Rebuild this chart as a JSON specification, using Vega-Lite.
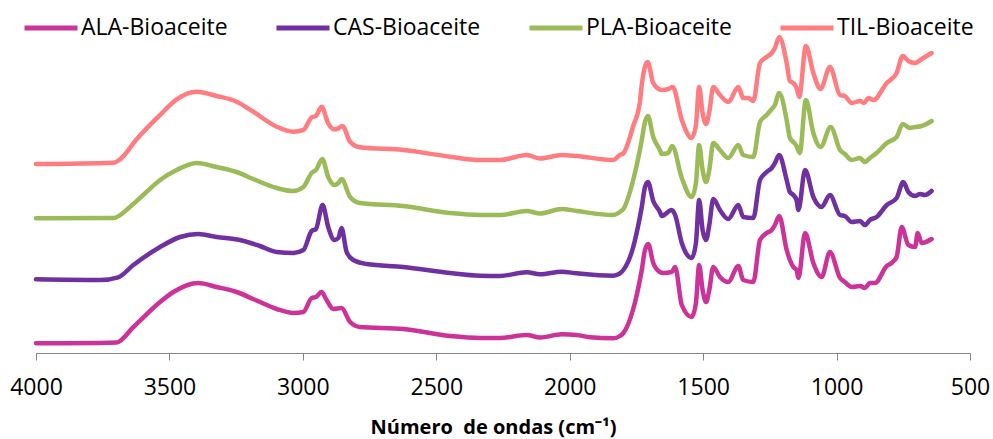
{
  "$schema": "https://vega.github.io/schema/vega-lite/v6.json",
  "width": 934,
  "height": 333,
  "autosize": {"type": "none"},
  "padding": {"left": 36, "top": 20, "right": 23, "bottom": 86},
  "background": "white",
  "config": {"view": {"stroke": null}, "font": "Open Sans"},
  "data": {"values": [
    {"serie":"ALA-Bioaceite","x":4000,"y":9.7},{"serie":"ALA-Bioaceite","x":3760,"y":10},{"serie":"ALA-Bioaceite","x":3698,"y":10.5},{"serie":"ALA-Bioaceite","x":3635,"y":26},{"serie":"ALA-Bioaceite","x":3535,"y":51},{"serie":"ALA-Bioaceite","x":3485,"y":61},{"serie":"ALA-Bioaceite","x":3392,"y":70},{"serie":"ALA-Bioaceite","x":3323,"y":66},{"serie":"ALA-Bioaceite","x":3248,"y":61},{"serie":"ALA-Bioaceite","x":3186,"y":54},{"serie":"ALA-Bioaceite","x":3098,"y":44},{"serie":"ALA-Bioaceite","x":3036,"y":40},{"serie":"ALA-Bioaceite","x":2998,"y":41},{"serie":"ALA-Bioaceite","x":2967,"y":55},{"serie":"ALA-Bioaceite","x":2951,"y":56},{"serie":"ALA-Bioaceite","x":2930,"y":61},{"serie":"ALA-Bioaceite","x":2911,"y":53},{"serie":"ALA-Bioaceite","x":2886,"y":44},{"serie":"ALA-Bioaceite","x":2855,"y":45},{"serie":"ALA-Bioaceite","x":2823,"y":31},{"serie":"ALA-Bioaceite","x":2786,"y":26},{"serie":"ALA-Bioaceite","x":2624,"y":24},{"serie":"ALA-Bioaceite","x":2449,"y":17},{"serie":"ALA-Bioaceite","x":2336,"y":15},{"serie":"ALA-Bioaceite","x":2261,"y":15},{"serie":"ALA-Bioaceite","x":2161,"y":18},{"serie":"ALA-Bioaceite","x":2111,"y":15.5},{"serie":"ALA-Bioaceite","x":2030,"y":18.7},{"serie":"ALA-Bioaceite","x":1974,"y":18},{"serie":"ALA-Bioaceite","x":1924,"y":15.7},{"serie":"ALA-Bioaceite","x":1837,"y":14.7},{"serie":"ALA-Bioaceite","x":1812,"y":17},{"serie":"ALA-Bioaceite","x":1799,"y":20},{"serie":"ALA-Bioaceite","x":1762,"y":44},{"serie":"ALA-Bioaceite","x":1737,"y":73},{"serie":"ALA-Bioaceite","x":1730,"y":83},{"serie":"ALA-Bioaceite","x":1718,"y":103},{"serie":"ALA-Bioaceite","x":1706,"y":109},{"serie":"ALA-Bioaceite","x":1687,"y":90},{"serie":"ALA-Bioaceite","x":1662,"y":81},{"serie":"ALA-Bioaceite","x":1649,"y":80},{"serie":"ALA-Bioaceite","x":1618,"y":81},{"serie":"ALA-Bioaceite","x":1605,"y":86},{"serie":"ALA-Bioaceite","x":1580,"y":48},{"serie":"ALA-Bioaceite","x":1543,"y":36},{"serie":"ALA-Bioaceite","x":1527,"y":50},{"serie":"ALA-Bioaceite","x":1515,"y":88},{"serie":"ALA-Bioaceite","x":1502,"y":63},{"serie":"ALA-Bioaceite","x":1489,"y":51},{"serie":"ALA-Bioaceite","x":1477,"y":63},{"serie":"ALA-Bioaceite","x":1462,"y":86},{"serie":"ALA-Bioaceite","x":1437,"y":76},{"serie":"ALA-Bioaceite","x":1406,"y":71},{"serie":"ALA-Bioaceite","x":1368,"y":87},{"serie":"ALA-Bioaceite","x":1350,"y":73},{"serie":"ALA-Bioaceite","x":1312,"y":71},{"serie":"ALA-Bioaceite","x":1287,"y":113},{"serie":"ALA-Bioaceite","x":1262,"y":120},{"serie":"ALA-Bioaceite","x":1243,"y":123},{"serie":"ALA-Bioaceite","x":1231,"y":128},{"serie":"ALA-Bioaceite","x":1215,"y":137},{"serie":"ALA-Bioaceite","x":1187,"y":103},{"serie":"ALA-Bioaceite","x":1175,"y":93},{"serie":"ALA-Bioaceite","x":1162,"y":86},{"serie":"ALA-Bioaceite","x":1150,"y":83},{"serie":"ALA-Bioaceite","x":1143,"y":75},{"serie":"ALA-Bioaceite","x":1118,"y":120},{"serie":"ALA-Bioaceite","x":1087,"y":90},{"serie":"ALA-Bioaceite","x":1056,"y":76},{"serie":"ALA-Bioaceite","x":1025,"y":101},{"serie":"ALA-Bioaceite","x":987,"y":75},{"serie":"ALA-Bioaceite","x":969,"y":71},{"serie":"ALA-Bioaceite","x":943,"y":66},{"serie":"ALA-Bioaceite","x":912,"y":67},{"serie":"ALA-Bioaceite","x":894,"y":65},{"serie":"ALA-Bioaceite","x":875,"y":70},{"serie":"ALA-Bioaceite","x":856,"y":70},{"serie":"ALA-Bioaceite","x":812,"y":87},{"serie":"ALA-Bioaceite","x":794,"y":90},{"serie":"ALA-Bioaceite","x":775,"y":96},{"serie":"ALA-Bioaceite","x":756,"y":126},{"serie":"ALA-Bioaceite","x":731,"y":108},{"serie":"ALA-Bioaceite","x":706,"y":106},{"serie":"ALA-Bioaceite","x":696,"y":120},{"serie":"ALA-Bioaceite","x":681,"y":110},{"serie":"ALA-Bioaceite","x":644,"y":114},

    {"serie":"CAS-Bioaceite","x":4000,"y":73.7},{"serie":"CAS-Bioaceite","x":3760,"y":73},{"serie":"CAS-Bioaceite","x":3692,"y":75.7},{"serie":"CAS-Bioaceite","x":3635,"y":88},{"serie":"CAS-Bioaceite","x":3535,"y":106},{"serie":"CAS-Bioaceite","x":3460,"y":116},{"serie":"CAS-Bioaceite","x":3392,"y":119},{"serie":"CAS-Bioaceite","x":3323,"y":116},{"serie":"CAS-Bioaceite","x":3236,"y":113},{"serie":"CAS-Bioaceite","x":3161,"y":107},{"serie":"CAS-Bioaceite","x":3098,"y":101},{"serie":"CAS-Bioaceite","x":3036,"y":100},{"serie":"CAS-Bioaceite","x":2998,"y":103},{"serie":"CAS-Bioaceite","x":2967,"y":122},{"serie":"CAS-Bioaceite","x":2951,"y":124},{"serie":"CAS-Bioaceite","x":2926,"y":148},{"serie":"CAS-Bioaceite","x":2905,"y":126},{"serie":"CAS-Bioaceite","x":2882,"y":113},{"serie":"CAS-Bioaceite","x":2867,"y":115},{"serie":"CAS-Bioaceite","x":2855,"y":125},{"serie":"CAS-Bioaceite","x":2836,"y":101},{"serie":"CAS-Bioaceite","x":2811,"y":93},{"serie":"CAS-Bioaceite","x":2761,"y":89},{"serie":"CAS-Bioaceite","x":2624,"y":86},{"serie":"CAS-Bioaceite","x":2449,"y":80},{"serie":"CAS-Bioaceite","x":2336,"y":77.3},{"serie":"CAS-Bioaceite","x":2261,"y":77},{"serie":"CAS-Bioaceite","x":2161,"y":80.7},{"serie":"CAS-Bioaceite","x":2111,"y":78.7},{"serie":"CAS-Bioaceite","x":2030,"y":81.3},{"serie":"CAS-Bioaceite","x":1974,"y":79.7},{"serie":"CAS-Bioaceite","x":1837,"y":77.3},{"serie":"CAS-Bioaceite","x":1812,"y":79.7},{"serie":"CAS-Bioaceite","x":1799,"y":83},{"serie":"CAS-Bioaceite","x":1762,"y":106},{"serie":"CAS-Bioaceite","x":1737,"y":136},{"serie":"CAS-Bioaceite","x":1730,"y":146},{"serie":"CAS-Bioaceite","x":1718,"y":166},{"serie":"CAS-Bioaceite","x":1707,"y":171},{"serie":"CAS-Bioaceite","x":1687,"y":152},{"serie":"CAS-Bioaceite","x":1662,"y":141},{"serie":"CAS-Bioaceite","x":1655,"y":137},{"serie":"CAS-Bioaceite","x":1618,"y":143},{"serie":"CAS-Bioaceite","x":1605,"y":138},{"serie":"CAS-Bioaceite","x":1580,"y":110},{"serie":"CAS-Bioaceite","x":1543,"y":95},{"serie":"CAS-Bioaceite","x":1527,"y":110},{"serie":"CAS-Bioaceite","x":1515,"y":153},{"serie":"CAS-Bioaceite","x":1502,"y":123},{"serie":"CAS-Bioaceite","x":1489,"y":113},{"serie":"CAS-Bioaceite","x":1477,"y":128},{"serie":"CAS-Bioaceite","x":1462,"y":154},{"serie":"CAS-Bioaceite","x":1437,"y":143},{"serie":"CAS-Bioaceite","x":1406,"y":134},{"serie":"CAS-Bioaceite","x":1368,"y":148},{"serie":"CAS-Bioaceite","x":1350,"y":136},{"serie":"CAS-Bioaceite","x":1312,"y":135},{"serie":"CAS-Bioaceite","x":1287,"y":173},{"serie":"CAS-Bioaceite","x":1262,"y":181},{"serie":"CAS-Bioaceite","x":1243,"y":185},{"serie":"CAS-Bioaceite","x":1231,"y":190},{"serie":"CAS-Bioaceite","x":1215,"y":198},{"serie":"CAS-Bioaceite","x":1187,"y":173},{"serie":"CAS-Bioaceite","x":1175,"y":161},{"serie":"CAS-Bioaceite","x":1162,"y":158},{"serie":"CAS-Bioaceite","x":1150,"y":153},{"serie":"CAS-Bioaceite","x":1143,"y":143},{"serie":"CAS-Bioaceite","x":1118,"y":183},{"serie":"CAS-Bioaceite","x":1087,"y":156},{"serie":"CAS-Bioaceite","x":1056,"y":146},{"serie":"CAS-Bioaceite","x":1025,"y":158},{"serie":"CAS-Bioaceite","x":987,"y":138},{"serie":"CAS-Bioaceite","x":969,"y":137},{"serie":"CAS-Bioaceite","x":943,"y":131},{"serie":"CAS-Bioaceite","x":912,"y":132},{"serie":"CAS-Bioaceite","x":894,"y":128},{"serie":"CAS-Bioaceite","x":875,"y":133},{"serie":"CAS-Bioaceite","x":850,"y":136},{"serie":"CAS-Bioaceite","x":812,"y":148},{"serie":"CAS-Bioaceite","x":775,"y":155},{"serie":"CAS-Bioaceite","x":750,"y":171},{"serie":"CAS-Bioaceite","x":731,"y":161},{"serie":"CAS-Bioaceite","x":706,"y":157},{"serie":"CAS-Bioaceite","x":687,"y":159},{"serie":"CAS-Bioaceite","x":669,"y":158},{"serie":"CAS-Bioaceite","x":644,"y":162},

    {"serie":"PLA-Bioaceite","x":4000,"y":134.7},{"serie":"PLA-Bioaceite","x":3710,"y":135},{"serie":"PLA-Bioaceite","x":3648,"y":146},{"serie":"PLA-Bioaceite","x":3598,"y":158},{"serie":"PLA-Bioaceite","x":3535,"y":173},{"serie":"PLA-Bioaceite","x":3473,"y":183},{"serie":"PLA-Bioaceite","x":3398,"y":190},{"serie":"PLA-Bioaceite","x":3323,"y":186},{"serie":"PLA-Bioaceite","x":3248,"y":181},{"serie":"PLA-Bioaceite","x":3186,"y":174},{"serie":"PLA-Bioaceite","x":3098,"y":165},{"serie":"PLA-Bioaceite","x":3036,"y":162},{"serie":"PLA-Bioaceite","x":2998,"y":166},{"serie":"PLA-Bioaceite","x":2967,"y":180},{"serie":"PLA-Bioaceite","x":2951,"y":183},{"serie":"PLA-Bioaceite","x":2927,"y":194},{"serie":"PLA-Bioaceite","x":2905,"y":176},{"serie":"PLA-Bioaceite","x":2882,"y":168},{"serie":"PLA-Bioaceite","x":2867,"y":170},{"serie":"PLA-Bioaceite","x":2855,"y":174},{"serie":"PLA-Bioaceite","x":2823,"y":156},{"serie":"PLA-Bioaceite","x":2786,"y":150},{"serie":"PLA-Bioaceite","x":2624,"y":147},{"serie":"PLA-Bioaceite","x":2449,"y":140},{"serie":"PLA-Bioaceite","x":2336,"y":138},{"serie":"PLA-Bioaceite","x":2261,"y":138},{"serie":"PLA-Bioaceite","x":2161,"y":142},{"serie":"PLA-Bioaceite","x":2111,"y":139.5},{"serie":"PLA-Bioaceite","x":2030,"y":144},{"serie":"PLA-Bioaceite","x":1974,"y":142},{"serie":"PLA-Bioaceite","x":1837,"y":138},{"serie":"PLA-Bioaceite","x":1812,"y":141},{"serie":"PLA-Bioaceite","x":1799,"y":144},{"serie":"PLA-Bioaceite","x":1762,"y":173},{"serie":"PLA-Bioaceite","x":1737,"y":203},{"serie":"PLA-Bioaceite","x":1730,"y":213},{"serie":"PLA-Bioaceite","x":1718,"y":231},{"serie":"PLA-Bioaceite","x":1707,"y":237},{"serie":"PLA-Bioaceite","x":1687,"y":216},{"serie":"PLA-Bioaceite","x":1662,"y":203},{"serie":"PLA-Bioaceite","x":1655,"y":199},{"serie":"PLA-Bioaceite","x":1631,"y":200},{"serie":"PLA-Bioaceite","x":1616,"y":207},{"serie":"PLA-Bioaceite","x":1580,"y":175},{"serie":"PLA-Bioaceite","x":1543,"y":156},{"serie":"PLA-Bioaceite","x":1527,"y":170},{"serie":"PLA-Bioaceite","x":1515,"y":208},{"serie":"PLA-Bioaceite","x":1502,"y":183},{"serie":"PLA-Bioaceite","x":1489,"y":171},{"serie":"PLA-Bioaceite","x":1477,"y":183},{"serie":"PLA-Bioaceite","x":1462,"y":210},{"serie":"PLA-Bioaceite","x":1437,"y":203},{"serie":"PLA-Bioaceite","x":1406,"y":195},{"serie":"PLA-Bioaceite","x":1368,"y":208},{"serie":"PLA-Bioaceite","x":1350,"y":198},{"serie":"PLA-Bioaceite","x":1312,"y":196},{"serie":"PLA-Bioaceite","x":1287,"y":231},{"serie":"PLA-Bioaceite","x":1262,"y":238},{"serie":"PLA-Bioaceite","x":1243,"y":244},{"serie":"PLA-Bioaceite","x":1231,"y":248},{"serie":"PLA-Bioaceite","x":1215,"y":260},{"serie":"PLA-Bioaceite","x":1187,"y":233},{"serie":"PLA-Bioaceite","x":1175,"y":215},{"serie":"PLA-Bioaceite","x":1162,"y":211},{"serie":"PLA-Bioaceite","x":1150,"y":207},{"serie":"PLA-Bioaceite","x":1138,"y":200},{"serie":"PLA-Bioaceite","x":1115,"y":253},{"serie":"PLA-Bioaceite","x":1087,"y":220},{"serie":"PLA-Bioaceite","x":1060,"y":206},{"serie":"PLA-Bioaceite","x":1022,"y":226},{"serie":"PLA-Bioaceite","x":987,"y":203},{"serie":"PLA-Bioaceite","x":969,"y":199},{"serie":"PLA-Bioaceite","x":943,"y":193},{"serie":"PLA-Bioaceite","x":912,"y":195},{"serie":"PLA-Bioaceite","x":894,"y":191},{"serie":"PLA-Bioaceite","x":875,"y":195},{"serie":"PLA-Bioaceite","x":850,"y":200},{"serie":"PLA-Bioaceite","x":812,"y":210},{"serie":"PLA-Bioaceite","x":775,"y":216},{"serie":"PLA-Bioaceite","x":752,"y":229},{"serie":"PLA-Bioaceite","x":725,"y":225},{"serie":"PLA-Bioaceite","x":706,"y":226},{"serie":"PLA-Bioaceite","x":681,"y":227},{"serie":"PLA-Bioaceite","x":644,"y":232},

    {"serie":"TIL-Bioaceite","x":4000,"y":189},{"serie":"TIL-Bioaceite","x":3710,"y":190.3},{"serie":"TIL-Bioaceite","x":3685,"y":193.7},{"serie":"TIL-Bioaceite","x":3623,"y":213.7},{"serie":"TIL-Bioaceite","x":3535,"y":238},{"serie":"TIL-Bioaceite","x":3473,"y":253.7},{"serie":"TIL-Bioaceite","x":3398,"y":261.3},{"serie":"TIL-Bioaceite","x":3323,"y":257},{"serie":"TIL-Bioaceite","x":3248,"y":251.3},{"serie":"TIL-Bioaceite","x":3186,"y":241.3},{"serie":"TIL-Bioaceite","x":3098,"y":226.3},{"serie":"TIL-Bioaceite","x":3036,"y":221.3},{"serie":"TIL-Bioaceite","x":2998,"y":223},{"serie":"TIL-Bioaceite","x":2967,"y":235.7},{"serie":"TIL-Bioaceite","x":2951,"y":237},{"serie":"TIL-Bioaceite","x":2930,"y":246.3},{"serie":"TIL-Bioaceite","x":2905,"y":229.7},{"serie":"TIL-Bioaceite","x":2882,"y":223.7},{"serie":"TIL-Bioaceite","x":2867,"y":224.7},{"serie":"TIL-Bioaceite","x":2852,"y":227},{"serie":"TIL-Bioaceite","x":2823,"y":211.3},{"serie":"TIL-Bioaceite","x":2786,"y":205.7},{"serie":"TIL-Bioaceite","x":2624,"y":203},{"serie":"TIL-Bioaceite","x":2449,"y":196.3},{"serie":"TIL-Bioaceite","x":2336,"y":193},{"serie":"TIL-Bioaceite","x":2261,"y":193},{"serie":"TIL-Bioaceite","x":2161,"y":198},{"serie":"TIL-Bioaceite","x":2111,"y":194.5},{"serie":"TIL-Bioaceite","x":2030,"y":198},{"serie":"TIL-Bioaceite","x":1974,"y":197},{"serie":"TIL-Bioaceite","x":1837,"y":193},{"serie":"TIL-Bioaceite","x":1812,"y":198},{"serie":"TIL-Bioaceite","x":1799,"y":199.7},{"serie":"TIL-Bioaceite","x":1762,"y":227},{"serie":"TIL-Bioaceite","x":1737,"y":251},{"serie":"TIL-Bioaceite","x":1730,"y":268},{"serie":"TIL-Bioaceite","x":1708,"y":291},{"serie":"TIL-Bioaceite","x":1687,"y":270},{"serie":"TIL-Bioaceite","x":1655,"y":263},{"serie":"TIL-Bioaceite","x":1631,"y":264},{"serie":"TIL-Bioaceite","x":1614,"y":266},{"serie":"TIL-Bioaceite","x":1580,"y":233},{"serie":"TIL-Bioaceite","x":1543,"y":215},{"serie":"TIL-Bioaceite","x":1527,"y":228},{"serie":"TIL-Bioaceite","x":1515,"y":266},{"serie":"TIL-Bioaceite","x":1502,"y":240},{"serie":"TIL-Bioaceite","x":1489,"y":229},{"serie":"TIL-Bioaceite","x":1477,"y":241},{"serie":"TIL-Bioaceite","x":1462,"y":266},{"serie":"TIL-Bioaceite","x":1437,"y":258},{"serie":"TIL-Bioaceite","x":1406,"y":251},{"serie":"TIL-Bioaceite","x":1368,"y":266},{"serie":"TIL-Bioaceite","x":1350,"y":255},{"serie":"TIL-Bioaceite","x":1331,"y":255},{"serie":"TIL-Bioaceite","x":1312,"y":252},{"serie":"TIL-Bioaceite","x":1287,"y":290},{"serie":"TIL-Bioaceite","x":1262,"y":296},{"serie":"TIL-Bioaceite","x":1243,"y":300},{"serie":"TIL-Bioaceite","x":1231,"y":305},{"serie":"TIL-Bioaceite","x":1215,"y":316},{"serie":"TIL-Bioaceite","x":1187,"y":290},{"serie":"TIL-Bioaceite","x":1175,"y":272},{"serie":"TIL-Bioaceite","x":1162,"y":270},{"serie":"TIL-Bioaceite","x":1150,"y":265},{"serie":"TIL-Bioaceite","x":1140,"y":256},{"serie":"TIL-Bioaceite","x":1115,"y":307},{"serie":"TIL-Bioaceite","x":1087,"y":280},{"serie":"TIL-Bioaceite","x":1060,"y":264},{"serie":"TIL-Bioaceite","x":1025,"y":286},{"serie":"TIL-Bioaceite","x":987,"y":258},{"serie":"TIL-Bioaceite","x":969,"y":257},{"serie":"TIL-Bioaceite","x":943,"y":250},{"serie":"TIL-Bioaceite","x":912,"y":252},{"serie":"TIL-Bioaceite","x":897,"y":250},{"serie":"TIL-Bioaceite","x":881,"y":255},{"serie":"TIL-Bioaceite","x":862,"y":253},{"serie":"TIL-Bioaceite","x":812,"y":270},{"serie":"TIL-Bioaceite","x":775,"y":280},{"serie":"TIL-Bioaceite","x":752,"y":297},{"serie":"TIL-Bioaceite","x":731,"y":292},{"serie":"TIL-Bioaceite","x":706,"y":290},{"serie":"TIL-Bioaceite","x":681,"y":294},{"serie":"TIL-Bioaceite","x":644,"y":300}
  ]},
  "mark": {"type": "line", "strokeWidth": 4.5, "interpolate": "monotone", "strokeCap": "round", "strokeJoin": "round"},
  "encoding": {
    "x": {
      "field": "x", "type": "quantitative",
      "scale": {"domain": [500, 4000], "reverse": true, "nice": false, "zero": false},
      "axis": {
        "values": [4000, 3500, 3000, 2500, 2000, 1500, 1000, 500], "format": "d",
        "grid": false, "domainColor": "#868686", "tickColor": "#868686", "tickSize": 7,
        "labelFontSize": 23, "labelFont": "Open Sans", "labelColor": "#000000", "labelPadding": 16,
        "labelFlush": false, "labelOverlap": false,
        "title": "Número\u00a0 de ondas (cm⁻¹)", "titleFont": "Open Sans", "titleFontSize": 20, "titleFontWeight": "bold",
        "titleColor": "#000000", "titleX": 457, "titleY": 80, "titleBaseline": "alphabetic"
      }
    },
    "y": {"field": "y", "type": "quantitative", "scale": {"domain": [0, 333], "nice": false, "zero": false}, "axis": null},
    "color": {
      "field": "serie", "type": "nominal",
      "scale": {"domain": ["ALA-Bioaceite", "CAS-Bioaceite", "PLA-Bioaceite", "TIL-Bioaceite"], "range": ["#CC3399", "#7030A0", "#9BBB59", "#FF7C80"]},
      "legend": {
        "orient": "none", "legendX": -14, "legendY": -21, "direction": "horizontal", "title": null,
        "symbolType": "stroke", "symbolSize": 2809, "symbolStrokeWidth": 5,
        "labelFontSize": 23, "labelFont": "Open Sans", "labelColor": "#000000", "labelOffset": 1,
        "columnPadding": 38, "padding": 0, "labelLimit": 300
      }
    },
    "order": {"field": "x", "sort": "descending"}
  }
}
